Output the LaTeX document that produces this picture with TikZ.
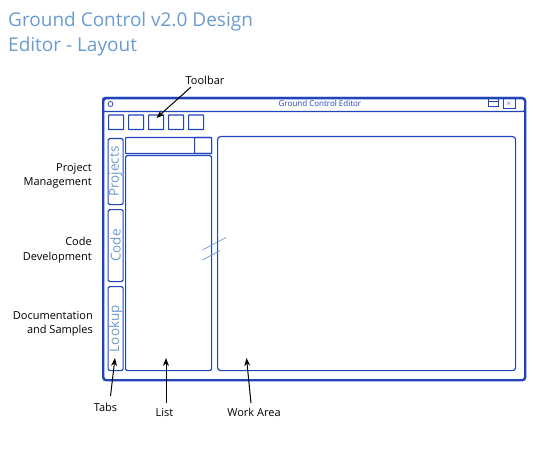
\documentclass[tikz,border=0pt]{standalone}
\usepackage{fontspec}
\setmainfont{Open Sans}
\usetikzlibrary{arrows.meta}
\definecolor{winblue}{HTML}{2244BB}
\definecolor{lightblue}{HTML}{6A9BD1}
\tikzset{
  box/.style={draw=winblue, line width=1.2pt, rounded corners=1.5pt, inner sep=0pt, anchor=north west},
  winframe/.style={draw=winblue, line width=2.4pt, rounded corners=3pt, inner sep=0pt, anchor=north west},
  tabtext/.style={text=lightblue, font=\fontsize{13.5}{13.5}\selectfont, rotate=90},
  lbl/.style={font=\fontsize{11}{14.5}\selectfont, align=right, anchor=east, inner sep=0pt},
  blbl/.style={font=\fontsize{11}{13}\selectfont, inner sep=0pt},
  ttl/.style={text=lightblue, font=\fontsize{19}{24}\selectfont, anchor=base west, inner sep=0pt},
  arr/.style={-{Stealth[length=8pt,width=6pt]}, line width=1pt, black},
  slash/.style={draw=lightblue, line width=0.7pt}
}
\begin{document}
\begin{tikzpicture}[x=1pt,y=-1pt]
\useasboundingbox (0,0) rectangle (533,468);
% title
\node[ttl] (title1) at (8,26.7) {Ground Control v2.0 Design};
\node[ttl] (title2) at (8,51.7) {Editor - Layout};
% window
\node[box, line width=1.2pt, rounded corners=2pt, minimum width=422pt, minimum height=14pt] (tbar) at (102,97) {};
\node[winframe, minimum width=422pt, minimum height=282pt] (win) at (102,97) {};
\node[draw=winblue, circle, line width=0.8pt, minimum size=5pt, inner sep=0pt] (dot) at (110.5,104) {};
\node[text=winblue, font=\fontsize{8}{8}\selectfont, inner sep=0pt] (wtitle) at (320,104) {Ground Control Editor};
\node[draw=winblue, line width=0.6pt, anchor=north west, minimum width=10pt, minimum height=8pt, inner sep=0pt] (minb) at (488,98) {};
\draw[winblue, line width=0.6pt] ([yshift=-3.5pt]minb.north west) -- ([yshift=-3.5pt]minb.north east);
\node[draw=winblue, line width=0.6pt, anchor=north west, minimum width=12pt, minimum height=10pt, inner sep=0pt, text=winblue, font=\fontsize{7}{7}\selectfont] (closeb) at (502.5,98) {$\times$};
% toolbar
\foreach \i/\x in {1/108,2/128,3/148,4/168,5/188}{
  \node[box, rounded corners=0.5pt, minimum width=15pt, minimum height=14.5pt] (tb\i) at (\x,114.5) {};
}
% tabs
\node[box, minimum width=15pt, minimum height=66pt] (tabP) at (107.5,138) {};
\node[tabtext] at (tabP.center) {Projects};
\node[box, minimum width=15pt, minimum height=72pt] (tabC) at (107.5,209) {};
\node[tabtext] at (tabC.center) {Code};
\node[box, minimum width=15pt, minimum height=84pt] (tabL) at (107.5,286) {};
\node[tabtext] at (tabL.center) {Lookup};
% list
\node[box, rounded corners=0.5pt, minimum width=86pt, minimum height=16pt] (lhead) at (125,137) {};
\node[box, rounded corners=0.5pt, minimum width=17pt, minimum height=16pt] (lbtn) at (194,137) {};
\node[box, minimum width=86pt, minimum height=215pt] (list) at (125,155) {};
% work area
\node[box, rounded corners=3pt, minimum width=298pt, minimum height=234pt] (work) at (217,136) {};
% break marks
\coordinate (s1a) at (202.5,250); \coordinate (s1b) at (226,237.5);
\coordinate (s2a) at (202.5,260); \coordinate (s2b) at (220,250.5);
\draw[slash] (s1a) -- (s1b);
\draw[slash] (s2a) -- (s2b);
% left labels
\node[lbl] (lp) at (92,176) {Project\\Management};
\node[lbl] (lc) at (92,250) {Code\\Development};
\node[lbl] (ld) at (93,324) {Documentation\\and Samples};
% bottom / top labels
\node[blbl] (ltool) at (205,80) {Toolbar};
\node[blbl] (ltabs) at (105.5,407) {Tabs};
\node[blbl] (llist) at (164.5,412.5) {List};
\node[blbl] (lwork) at (254,412.5) {Work Area};
% arrows
\coordinate (t1) at (191,87); \coordinate (t1e) at (156.5,118);
\draw[arr] (t1) -- (t1e);
\coordinate (ta) at (110.5,396); \coordinate (tae) at (115,358);
\draw[arr] (ta) -- (tae);
\coordinate (la) at (166,403); \coordinate (lae) at (166,358);
\draw[arr] (la) -- (lae);
\coordinate (wa) at (251,403); \coordinate (wae) at (246.5,358);
\draw[arr] (wa) -- (wae);
\end{tikzpicture}
\end{document}
